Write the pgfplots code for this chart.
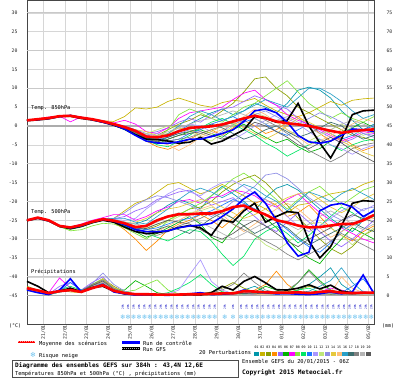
\documentclass[border=0pt]{standalone}
\usepackage{pgfplots}
\usepackage{pgfplotstable}
\pgfplotsset{compat=1.18}
\usepackage{fontspec}
\setmainfont{DejaVu Sans Mono}
\newfontfamily\djs{DejaVu Sans}
\definecolor{c01}{RGB}{0,150,170}
\definecolor{c02}{RGB}{200,180,0}
\definecolor{c03}{RGB}{140,160,0}
\definecolor{c04}{RGB}{255,140,0}
\definecolor{c05}{RGB}{150,100,255}
\definecolor{c06}{RGB}{0,180,0}
\definecolor{c07}{RGB}{255,0,255}
\definecolor{c08}{RGB}{130,230,60}
\definecolor{c09}{RGB}{0,230,100}
\definecolor{c10}{RGB}{30,120,255}
\definecolor{c11}{RGB}{170,150,255}
\definecolor{c12}{RGB}{190,230,120}
\definecolor{c13}{RGB}{140,140,230}
\definecolor{c14}{RGB}{230,200,60}
\definecolor{c15}{RGB}{255,190,120}
\definecolor{c16}{RGB}{40,160,200}
\definecolor{c17}{RGB}{60,110,110}
\definecolor{c18}{RGB}{130,130,130}
\definecolor{c19}{RGB}{180,180,180}
\definecolor{c20}{RGB}{90,90,90}
\definecolor{snowc}{RGB}{110,195,240}

% T850 (degC), 12-hourly from 20/01 06Z
\pgfplotstableread{
name 0 12 24 36 48 60 72 84 96 108 120 132 144 156 168 180 192 204 216 228 240 252 264 276 288 300 312 324 336 348 360 372 384
p01 1.4 1.7 2.2 2.5 2.9 2.3 1.6 1.0 0.6 -0.8 -2.0 -3.5 -4.2 -3.0 -1.5 0.5 2.0 3.5 4.5 3.0 4.0 6.0 5.0 3.5 6.0 9.5 10.3 9.5 7.4 4.0 1.5 -1.0 0.5
p02 1.6 1.9 2.0 2.8 2.6 2.1 1.9 1.4 1.2 2.5 4.8 4.5 5.0 6.5 7.4 6.5 5.5 5.0 6.2 6.8 6.5 7.3 5.5 4.0 3.0 2.5 3.5 5.0 6.5 5.5 6.8 7.2 7.4
p03 1.5 1.6 2.1 2.4 2.8 2.4 1.7 1.1 0.3 -0.5 -2.0 -3.0 -2.5 -1.0 0.5 1.5 3.0 2.0 4.0 6.0 9.0 12.5 13.0 10.0 8.0 5.0 3.5 2.0 0.5 -1.0 -2.5 -3.0 -4.0
p04 1.5 1.9 2.3 2.7 2.5 2.0 1.8 1.3 0.4 -0.6 -2.2 -4.0 -5.5 -6.2 -5.0 -3.5 -2.0 -1.0 -2.5 -0.5 1.5 0.0 -2.0 -1.0 1.0 2.5 0.5 -2.0 -4.0 -3.0 -5.0 -6.5 -5.5
p05 1.4 1.8 2.0 2.6 2.8 2.3 1.9 1.2 0.7 0.0 -1.0 -2.0 -1.5 -0.5 1.0 2.0 1.0 3.0 4.5 5.0 6.5 8.0 7.0 5.5 4.5 2.0 0.0 -1.5 -3.0 -4.5 -3.5 -2.0 -2.5
p06 1.6 1.8 2.1 2.5 2.7 2.1 1.7 1.0 0.2 -1.0 -2.5 -4.0 -4.8 -3.5 -2.5 -1.5 -1.0 -2.0 -3.0 -1.0 0.5 -1.5 -3.0 -4.5 -3.5 -5.5 -7.0 -6.0 -4.0 -2.0 -0.5 1.0 -0.5
p07 1.5 1.9 2.4 2.6 1.1 2.4 1.9 1.4 0.8 1.5 0.5 -1.5 -2.0 -0.5 2.0 3.5 4.0 4.5 5.0 7.0 8.7 9.5 7.0 5.5 3.0 1.5 0.5 -1.0 -2.5 -4.0 -3.0 -1.5 -2.0
p08 1.5 1.7 2.0 2.7 2.8 2.2 1.8 1.1 0.4 -0.4 -1.5 -3.0 -3.5 -1.0 3.0 4.5 3.5 2.0 1.0 3.0 5.0 6.0 8.0 10.0 12.0 9.0 6.0 4.0 2.0 3.5 2.0 1.0 2.5
p09 1.6 1.8 2.2 2.6 2.6 2.2 1.8 1.2 0.5 -0.3 -1.8 -3.5 -5.0 -5.5 -4.0 -2.5 -0.5 1.0 2.0 0.5 -1.0 -2.5 -4.5 -6.0 -8.0 -6.5 -5.0 -3.5 -5.0 -6.5 -5.0 -4.0 -3.5
p10 1.5 1.8 2.1 2.7 2.7 2.3 1.8 1.2 0.6 -0.2 -1.0 -2.5 -3.0 -4.0 -3.5 -2.0 -1.0 0.5 1.5 2.5 1.0 2.0 0.5 -1.5 -2.5 -1.0 0.5 -0.5 -2.0 -3.5 -2.5 -1.0 0.0
p11 1.4 1.8 2.1 2.5 2.8 2.2 1.7 1.3 0.5 -0.5 -1.6 -2.5 -2.0 -2.5 -1.0 0.5 0.0 -1.5 -2.5 -3.5 -2.0 0.0 1.5 3.0 2.0 0.5 -1.5 -3.5 -5.0 -6.0 -7.5 -6.0 -5.0
p12 1.5 1.8 2.0 2.6 2.7 2.1 1.8 1.2 0.5 -0.5 -1.5 -2.0 -1.0 0.0 -0.5 -1.5 -3.0 -4.0 -2.0 0.0 2.0 3.5 2.5 1.0 -1.0 -2.5 -4.0 -2.5 -1.0 0.5 -1.0 -2.5 -1.5
p13 1.5 1.9 2.1 2.6 2.7 2.2 1.8 1.2 0.4 -0.4 -1.2 -2.5 -3.5 -3.0 -2.0 -1.0 -2.0 -3.0 -1.5 0.5 1.5 3.0 4.0 2.5 1.0 0.5 2.0 3.5 2.5 1.0 -0.5 -2.0 -3.0
p14 1.6 1.7 2.0 2.6 2.8 2.3 1.8 1.3 0.6 -0.4 -1.0 -1.5 -2.5 -2.0 -0.5 -1.0 -2.5 -1.5 0.0 1.0 -0.5 -2.0 -3.5 -2.0 0.0 2.0 1.0 -0.5 -2.0 -4.0 -5.5 -7.0 -8.0
p15 1.5 1.8 2.2 2.6 2.6 2.1 1.8 1.2 0.5 -0.2 -1.4 -2.8 -4.0 -5.0 -6.5 -5.0 -3.0 -2.0 -1.0 0.5 2.5 4.5 3.0 1.0 -1.0 -3.0 -5.0 -4.0 -2.5 -1.0 0.5 2.0 1.0
p16 1.5 1.7 2.1 2.5 2.7 2.2 1.8 1.2 0.5 -0.6 -1.8 -3.2 -3.5 -2.0 0.0 2.5 4.0 3.0 1.5 2.5 4.0 5.5 7.0 6.0 5.0 7.5 10.0 10.0 8.5 6.5 4.0 2.0 3.0
p17 1.5 1.8 2.0 2.7 2.8 2.2 1.8 1.2 0.5 -0.3 -1.5 -3.0 -3.8 -3.0 -2.0 -1.5 -0.5 0.5 -0.5 -2.0 -3.5 -2.5 -1.0 0.0 -1.5 -3.0 -2.0 -0.5 1.0 0.0 -2.0 -3.5 -2.5
p18 1.4 1.8 2.1 2.6 2.7 2.2 1.8 1.2 0.5 -0.4 -1.8 -3.5 -4.5 -4.0 -3.5 -3.0 -2.0 -1.0 0.0 1.0 2.0 3.0 1.5 0.0 -2.0 -4.0 -6.5 -8.0 -9.5 -8.0 -6.0 -5.0 -4.5
p19 1.5 1.8 2.1 2.6 2.7 2.2 1.8 1.3 0.6 -0.3 -1.2 -2.2 -2.5 -1.5 -0.5 0.5 1.5 2.0 3.0 4.0 3.0 2.0 0.5 1.5 2.5 1.0 -0.5 -2.0 -1.0 0.5 1.5 0.5 -0.5
p20 1.5 1.8 2.1 2.6 2.7 2.2 1.8 1.2 0.5 -0.5 -1.7 -3.3 -4.2 -3.5 -2.5 -2.0 -1.5 -2.5 -3.5 -2.5 -1.0 1.0 0.0 -1.5 -3.0 -5.0 -6.0 -4.5 -3.0 -4.5 -6.5 -8.0 -9.5
mean 1.5 1.8 2.1 2.6 2.7 2.2 1.8 1.2 0.5 -0.3 -1.3 -2.8 -3.0 -2.5 -1.4 -0.5 -0.3 -0.1 0.4 1.2 2.0 2.7 2.1 1.2 0.7 0.4 0.0 -0.6 -1.3 -1.8 -1.4 -1.1 -0.9
ctl 1.5 1.7 2.0 2.5 2.8 2.2 1.7 1.0 0.3 -0.8 -2.5 -4.0 -4.5 -4.6 -4.2 -3.5 -3.5 -2.8 -2.0 -1.0 1.2 4.0 4.5 3.5 1.0 -2.5 -4.2 -4.6 -4.0 -2.5 -0.8 -1.0 -1.5
gfs 1.4 1.6 1.9 2.5 2.6 2.0 1.6 1.0 0.2 -0.8 -2.3 -3.5 -3.6 -4.0 -4.6 -4.3 -3.0 -4.8 -4.0 -2.5 -1.0 2.5 2.0 1.0 1.5 6.0 0.0 -4.5 -8.5 -3.5 3.0 4.0 4.2
}\rawA
\pgfplotstabletranspose[colnames from=name]\tA\rawA

% T500 (degC)
\pgfplotstableread{
name 0 12 24 36 48 60 72 84 96 108 120 132 144 156 168 180 192 204 216 228 240 252 264 276 288 300 312 324 336 348 360 372 384
p01 -25.0 -24.4 -25.1 -26.4 -26.8 -26.2 -25.3 -24.5 -24.8 -25.5 -26.0 -25.0 -23.0 -21.0 -19.5 -20.5 -22.0 -18.5 -16.0 -18.0 -20.0 -22.5 -19.0 -16.5 -15.5 -17.0 -19.5 -22.0 -24.5 -26.5 -28.0 -25.0 -23.5
p02 -25.1 -24.2 -24.9 -26.6 -27.0 -26.4 -25.5 -24.8 -24.5 -22.5 -20.5 -19.5 -17.5 -15.5 -15.0 -16.5 -18.0 -17.0 -15.5 -17.0 -18.5 -20.5 -22.0 -24.0 -23.0 -21.0 -20.5 -19.0 -18.0 -17.5 -17.0 -15.5 -14.5
p03 -24.9 -24.3 -25.0 -26.5 -26.9 -26.4 -25.4 -24.7 -25.0 -26.0 -27.0 -27.5 -26.5 -25.0 -23.5 -22.0 -21.5 -20.0 -17.5 -15.5 -14.0 -13.0 -15.0 -18.0 -21.0 -24.5 -27.0 -30.0 -32.5 -34.0 -32.0 -29.0 -27.5
p04 -25.0 -24.4 -25.2 -26.7 -27.0 -26.2 -25.2 -24.6 -25.5 -27.5 -30.0 -33.0 -30.5 -27.5 -26.0 -25.0 -23.5 -25.0 -27.0 -24.5 -22.0 -20.5 -19.5 -21.0 -24.0 -23.0 -21.0 -24.0 -27.0 -29.0 -30.5 -28.0 -26.5
p05 -25.0 -24.2 -25.0 -26.4 -26.8 -26.3 -25.4 -24.7 -24.6 -24.0 -22.5 -21.5 -19.5 -18.5 -17.5 -17.0 -19.0 -21.0 -20.0 -19.0 -21.5 -24.0 -26.5 -28.0 -25.5 -23.0 -25.5 -28.0 -30.5 -32.0 -30.0 -27.5 -25.0
p06 -25.1 -24.4 -25.1 -26.8 -27.4 -26.8 -25.8 -25.0 -25.3 -26.5 -28.0 -29.5 -28.5 -27.0 -25.5 -24.0 -26.0 -29.5 -31.0 -27.5 -24.0 -22.0 -24.5 -27.0 -30.0 -33.0 -35.0 -36.5 -33.0 -30.0 -27.0 -28.5 -30.0
p07 -25.0 -24.3 -25.0 -26.4 -26.8 -26.0 -25.0 -24.3 -23.5 -23.5 -25.0 -24.0 -22.5 -21.5 -20.0 -19.5 -20.5 -19.0 -18.5 -17.0 -17.5 -18.5 -20.5 -21.5 -19.5 -18.0 -20.5 -23.0 -25.0 -27.0 -28.5 -30.0 -31.0
p08 -25.0 -24.4 -25.0 -26.6 -27.8 -27.5 -26.5 -25.8 -26.0 -27.0 -28.5 -30.0 -28.0 -25.0 -23.5 -22.0 -20.5 -18.5 -16.5 -14.0 -12.5 -14.5 -17.0 -19.5 -22.0 -19.5 -17.5 -16.0 -18.5 -21.0 -19.0 -17.0 -16.0
p09 -25.1 -24.3 -25.1 -26.6 -27.0 -26.5 -25.5 -24.9 -25.5 -26.5 -27.5 -28.5 -29.5 -30.5 -29.0 -27.5 -28.0 -30.5 -34.0 -37.0 -34.5 -30.0 -28.0 -26.5 -28.5 -31.0 -29.0 -26.5 -24.0 -21.5 -23.0 -25.0 -24.0
p10 -25.0 -24.3 -25.0 -26.5 -26.9 -26.3 -25.4 -24.8 -25.3 -26.0 -27.0 -27.5 -27.0 -26.0 -25.0 -24.5 -23.5 -22.5 -21.0 -19.5 -20.5 -22.0 -23.5 -25.0 -27.5 -30.0 -32.0 -33.5 -31.0 -28.0 -26.0 -24.5 -22.0
p11 -24.9 -24.3 -25.0 -26.4 -26.8 -26.3 -25.3 -24.6 -24.8 -25.0 -24.5 -22.0 -20.0 -18.0 -16.5 -17.5 -18.5 -16.5 -15.0 -14.5 -16.0 -18.0 -19.5 -21.5 -24.0 -26.5 -28.0 -26.5 -24.5 -22.5 -21.0 -22.5 -21.0
p12 -25.0 -24.4 -25.1 -26.5 -27.0 -26.4 -25.5 -24.7 -25.0 -25.8 -26.5 -27.0 -26.0 -25.5 -24.0 -23.0 -22.5 -21.5 -22.5 -24.5 -26.5 -29.0 -31.5 -33.0 -31.0 -28.5 -26.0 -25.5 -27.0 -29.0 -31.5 -29.0 -27.0
p13 -25.0 -24.3 -25.0 -26.5 -26.9 -26.3 -25.4 -24.7 -24.5 -23.0 -21.0 -19.5 -18.5 -19.0 -20.0 -21.0 -22.5 -24.0 -22.5 -20.0 -18.0 -16.0 -13.0 -12.5 -14.0 -16.5 -19.0 -21.0 -23.5 -25.0 -24.0 -22.0 -21.5
p14 -25.0 -24.3 -25.1 -26.6 -27.0 -26.3 -25.4 -24.8 -25.2 -25.5 -25.5 -24.5 -23.0 -22.0 -21.5 -20.5 -19.5 -20.0 -21.5 -23.0 -24.5 -23.5 -22.0 -20.5 -19.0 -18.0 -17.5 -19.5 -21.5 -23.0 -21.5 -19.5 -18.0
p15 -25.0 -24.4 -25.0 -26.4 -26.9 -26.4 -25.5 -24.8 -25.2 -26.0 -27.5 -28.5 -28.0 -26.5 -25.0 -23.5 -22.0 -21.0 -23.5 -26.0 -28.0 -26.0 -24.0 -22.0 -20.5 -22.0 -24.5 -27.0 -29.5 -28.0 -26.5 -25.0 -24.5
p16 -25.0 -24.3 -25.0 -26.5 -26.9 -26.3 -25.4 -24.7 -24.5 -24.5 -25.5 -26.0 -24.0 -22.0 -19.5 -17.5 -16.5 -17.5 -19.0 -17.5 -15.5 -16.5 -18.5 -20.0 -22.5 -20.0 -17.5 -18.5 -20.0 -18.0 -16.5 -18.0 -19.5
p17 -25.0 -24.3 -25.1 -26.5 -26.9 -26.3 -25.4 -24.7 -25.2 -26.2 -27.2 -28.0 -27.5 -26.5 -27.5 -28.5 -26.5 -24.5 -23.0 -24.5 -26.5 -28.5 -27.0 -25.5 -27.0 -29.5 -31.5 -30.0 -28.5 -27.0 -25.5 -27.0 -28.0
p18 -25.0 -24.2 -25.0 -26.5 -26.9 -26.3 -25.4 -24.7 -25.1 -26.2 -27.5 -28.8 -29.0 -28.0 -26.5 -25.5 -24.5 -23.0 -24.5 -26.0 -27.5 -29.0 -30.5 -32.0 -34.0 -35.5 -34.0 -32.5 -30.5 -28.5 -30.0 -31.5 -33.0
p19 -25.0 -24.3 -25.0 -26.5 -26.9 -26.3 -25.4 -24.7 -25.0 -25.5 -26.0 -26.5 -25.5 -24.0 -23.0 -24.0 -25.5 -27.0 -28.5 -30.0 -28.5 -27.0 -25.5 -24.5 -26.0 -27.5 -26.0 -24.0 -22.5 -24.0 -26.0 -27.5 -26.0
p20 -25.0 -24.3 -25.0 -26.5 -26.9 -26.3 -25.4 -24.7 -25.1 -26.0 -27.0 -27.2 -26.0 -25.0 -25.5 -26.0 -27.5 -29.0 -30.0 -28.5 -26.5 -25.0 -26.5 -28.5 -30.5 -32.0 -30.0 -28.5 -27.0 -25.0 -23.5 -24.5 -25.5
mean -25.0 -24.3 -25.0 -26.5 -26.9 -26.3 -25.4 -24.7 -25.1 -25.8 -26.8 -26.5 -25.0 -24.0 -23.4 -23.4 -23.2 -23.2 -22.6 -21.5 -21.1 -22.4 -23.5 -25.0 -25.6 -26.4 -26.9 -26.8 -26.4 -26.0 -26.0 -25.0 -23.6
ctl -25.0 -24.4 -25.1 -26.5 -27.0 -26.5 -25.5 -24.8 -25.2 -26.2 -27.5 -28.0 -28.0 -27.8 -27.0 -26.5 -26.3 -25.8 -24.0 -22.0 -19.3 -17.5 -20.5 -25.0 -31.0 -34.5 -33.5 -22.5 -21.0 -20.5 -21.5 -24.0 -22.5
gfs -25.1 -24.5 -25.2 -26.6 -27.2 -26.6 -25.6 -25.0 -25.5 -26.8 -28.0 -28.5 -28.3 -27.8 -26.9 -26.4 -27.0 -29.0 -25.0 -25.5 -22.5 -20.5 -25.5 -24.0 -22.7 -23.0 -30.5 -35.0 -32.0 -26.5 -20.5 -19.8 -20.0
}\rawB
\pgfplotstabletranspose[colnames from=name]\tB\rawB

% Precipitation (mm, right axis)
\pgfplotstableread{
name 0 12 24 36 48 60 72 84 96 108 120 132 144 156 168 180 192 204 216 228 240 252 264 276 288 300 312 324 336 348 360 372 384
p01 1.8 1.0 0.3 1.0 1.5 1.2 2.5 3.5 1.5 0.5 0.2 0.3 0.2 0.1 0.2 0.4 0.8 0.5 0.3 0.6 1.5 2.5 1.0 0.5 0.8 1.5 3.0 5.0 7.4 3.0 1.0 0.5 0.8
p02 2.2 1.2 0.4 1.5 1.0 0.8 3.0 4.0 2.0 0.8 0.3 0.2 0.1 0.2 0.3 0.5 0.3 0.2 0.5 1.0 0.8 0.5 0.3 0.6 1.2 0.8 0.5 0.3 0.6 1.0 0.5 0.3 0.4
p03 2.5 1.5 0.5 1.0 2.0 1.5 2.8 4.5 2.5 1.0 0.5 0.3 0.2 0.2 0.3 0.2 0.5 1.0 2.0 3.5 2.0 1.0 0.6 0.4 0.8 1.5 2.5 1.8 0.6 0.4 0.3 0.5 0.6
p04 1.8 1.3 0.6 1.2 1.3 1.0 2.2 3.0 1.2 0.6 0.2 0.3 0.2 0.1 0.1 0.2 0.3 0.2 0.4 0.3 0.8 1.5 3.0 6.5 3.0 1.0 0.5 0.8 1.5 0.8 0.4 0.2 0.3
p05 2.0 1.4 0.4 2.5 3.5 1.5 3.5 5.0 2.0 0.8 0.3 0.2 0.1 0.1 0.2 0.3 0.2 0.3 0.5 0.4 0.3 0.5 0.8 0.5 0.3 0.6 1.0 0.6 0.3 0.5 0.8 1.2 0.6
p06 1.6 1.0 0.3 1.0 1.5 1.0 2.0 2.5 1.5 1.5 4.0 2.5 0.8 0.3 0.2 0.3 0.2 0.5 1.0 0.8 0.5 1.0 2.5 1.5 0.8 3.5 6.9 4.0 1.5 0.8 0.5 0.3 0.5
p07 2.0 1.5 0.8 4.7 2.0 1.0 2.5 3.5 1.3 0.5 0.2 0.2 0.1 0.1 0.2 0.2 0.3 0.2 0.3 0.5 0.8 1.2 0.8 0.5 0.3 0.4 0.6 1.0 2.0 1.5 0.8 0.5 0.3
p08 1.5 1.0 0.2 1.0 1.8 1.2 3.0 4.5 2.0 1.0 1.5 3.0 4.2 1.5 0.5 0.3 0.2 0.2 0.3 0.5 0.4 0.3 0.5 0.8 0.6 0.4 0.3 0.5 0.8 0.5 0.3 0.4 0.5
p09 1.8 1.2 0.4 1.5 2.5 1.5 2.5 3.0 1.5 0.7 0.3 0.2 0.3 0.8 2.0 3.5 5.6 3.0 1.0 0.5 0.3 0.4 0.6 0.5 0.8 1.5 2.0 1.0 0.5 0.3 0.4 0.3 0.3
p10 1.6 1.1 0.3 1.2 3.5 1.5 2.5 3.2 1.2 0.5 0.2 0.2 0.1 0.2 0.2 0.3 0.2 0.3 0.4 0.6 0.8 0.6 0.4 0.3 0.5 0.4 0.3 0.4 0.6 0.8 2.5 4.5 1.0
p11 1.7 1.0 0.3 1.0 1.5 1.0 2.5 3.8 1.5 0.5 0.3 0.2 0.2 0.5 1.5 5.6 9.5 3.8 1.5 0.6 0.4 0.3 0.5 0.3 0.4 0.5 0.3 0.2 0.4 0.5 0.3 0.4 0.3
p12 1.9 1.3 0.5 1.3 1.6 1.2 2.8 4.0 1.8 0.8 0.3 0.2 0.2 0.1 0.2 0.3 0.4 0.6 0.4 0.3 0.5 0.6 0.8 1.2 0.8 0.5 0.4 0.6 0.5 0.4 0.6 0.5 0.4
p13 2.0 1.2 0.4 1.2 1.8 1.3 3.2 6.0 3.0 1.2 0.5 0.3 0.2 0.2 0.1 0.2 0.3 0.2 0.3 0.5 0.6 0.4 0.3 0.5 0.4 0.3 0.5 0.8 0.6 0.4 0.3 0.5 0.4
p14 1.7 1.1 0.4 1.1 1.4 1.1 2.4 4.5 2.2 0.9 0.3 0.2 0.1 0.1 0.2 0.2 0.3 0.4 0.3 0.4 0.8 0.5 0.4 0.3 0.6 1.0 0.8 0.5 0.3 0.5 0.4 0.3 0.5
p15 1.8 1.2 0.5 1.3 1.5 1.2 2.6 3.6 1.6 0.7 0.3 0.2 0.2 0.2 0.2 0.3 0.2 0.2 0.3 0.3 0.5 0.4 0.3 0.8 1.5 1.0 0.6 0.4 0.8 5.0 2.0 0.8 0.6
p16 1.6 1.0 0.3 1.0 1.3 1.0 2.2 3.0 1.3 0.6 0.3 0.2 0.1 0.1 0.2 0.2 0.3 0.3 0.4 0.5 0.6 0.8 0.6 0.4 0.5 0.8 1.2 2.5 4.0 7.4 3.5 1.0 0.5
p17 2.0 1.4 0.6 1.4 1.7 1.3 2.7 3.4 1.4 0.8 0.3 0.2 0.2 0.1 0.2 0.3 0.3 0.2 0.3 0.4 0.6 0.5 0.7 1.0 0.6 0.4 0.3 0.5 0.4 0.3 0.4 0.6 0.5
p18 2.2 1.4 0.5 1.5 1.8 1.3 3.0 4.2 2.0 0.9 0.4 0.2 0.2 0.2 0.2 0.3 0.5 0.8 1.5 3.0 6.0 3.5 1.5 0.8 1.5 3.5 6.5 3.5 1.2 0.8 0.5 0.4 0.5
p19 1.7 1.1 0.4 1.2 1.5 1.1 2.5 3.5 1.6 0.7 0.3 0.2 0.1 0.1 0.2 0.2 0.3 0.2 0.4 0.3 0.5 0.6 0.4 0.3 0.4 0.5 0.6 0.4 0.5 0.3 0.4 0.3 0.4
p20 1.9 1.3 0.5 1.3 1.7 1.2 2.7 3.9 1.7 0.8 0.3 0.2 0.2 0.1 0.2 0.3 0.2 0.3 0.4 0.5 0.6 0.5 0.8 1.0 0.7 0.5 0.8 1.2 0.8 0.5 0.4 0.6 0.7
mean 2.0 1.4 0.7 1.2 1.5 1.0 2.0 2.8 1.3 0.7 0.4 0.4 0.3 0.3 0.3 0.4 0.4 0.5 0.6 0.6 1.2 1.1 0.9 0.8 0.8 0.9 0.7 1.0 1.2 0.8 0.7 0.8 0.8
ctl 1.5 0.8 0.3 1.5 4.5 1.0 2.0 3.0 1.0 0.5 0.2 0.3 0.2 0.1 0.3 0.5 0.8 0.3 0.4 0.6 1.5 1.0 0.8 0.5 0.6 0.4 0.3 0.5 1.0 0.5 1.0 5.5 0.5
gfs 3.8 2.5 0.8 1.2 2.0 1.0 2.2 2.5 1.2 0.5 0.3 0.3 0.2 0.2 0.2 0.3 0.2 0.8 2.5 1.5 3.8 5.1 3.4 1.6 1.5 2.0 2.9 1.8 2.8 1.2 0.8 0.7 0.7
}\rawC
\pgfplotstabletranspose[colnames from=name]\tC\rawC

% snow risk markers (hour, flake row, text row)
\pgfplotstableread{
h fl tx
106 -50.7 -48.0
112 -50.7 -48.0
118 -50.7 -48.0
124 -50.7 -48.0
130 -50.7 -48.0
136 -50.7 -48.0
142 -50.7 -48.0
148 -50.7 -48.0
154 -50.7 -48.0
160 -50.7 -48.0
166 -50.7 -48.0
172 -50.7 -48.0
178 -50.7 -48.0
184 -50.7 -48.0
190 -50.7 -48.0
196 -50.7 -48.0
202 -50.7 -48.0
208 -50.7 -48.0
219 -50.7 -48.0
228 -50.7 -48.0
237 -50.7 -48.0
243 -50.7 -48.0
249 -50.7 -48.0
255 -50.7 -48.0
261 -50.7 -48.0
267 -50.7 -48.0
273 -50.7 -48.0
279 -50.7 -48.0
285 -50.7 -48.0
291 -50.7 -48.0
297 -50.7 -48.0
303 -50.7 -48.0
309 -50.7 -48.0
315 -50.7 -48.0
321 -50.7 -48.0
327 -50.7 -48.0
333 -50.7 -48.0
339 -50.7 -48.0
345 -50.7 -48.0
351 -50.7 -48.0
357 -50.7 -48.0
363 -50.7 -48.0
369 -50.7 -48.0
375 -50.7 -48.0
381 -50.7 -48.0
}\snow

\begin{document}
\begin{tikzpicture}[x=1bp,y=1bp]
\useasboundingbox (0,0) rectangle (400,378);
\fill[white] (0,0) rectangle (400,378);
\begin{axis}[
  at={(27bp,54bp)}, anchor=south west, scale only axis,
  width=347bp, height=324bp,
  xmin=0, xmax=384, ymin=-52.5, ymax=33.4,
  xtick={18,42,...,378},
  xticklabels={21/01,22/01,23/01,24/01,25/01,26/01,27/01,28/01,29/01,30/01,31/01,01/02,02/02,03/02,04/02,05/02},
  ytick={-45,-40,...,30},
  tick style={draw=none},
  xmajorgrids, ymajorgrids,
  grid style={gray!32, line width=0.5bp},
  axis line style={gray!55!black, line width=0.8bp},
  ticklabel style={font=\fontsize{4.8}{5}\selectfont, text=black!85},
  xticklabel style={rotate=90, anchor=east, inner sep=1bp},
  yticklabel style={anchor=east, xshift=-6bp},
  /pgf/number format/assume math mode=true,
  clip=false,
]
\pgfplotsinvokeforeach{-40,-30,-20,-10,10,20,30}{\draw[gray!42, line width=1.1bp] (axis cs:0,#1) -- (axis cs:384,#1);}
\draw[gray!65, line width=1.5bp] (axis cs:0,0) -- (axis cs:384,0);
\draw[gray!65, line width=1.3bp] (axis cs:0,-45) -- (axis cs:384,-45);

\pgfplotsinvokeforeach{01,02,03,04,05,06,07,08,09,10,11,12,13,14,15,16,17,18,19,20}{
  \addplot[c#1, line width=0.65bp, no markers] table[x=colnames, y expr=\thisrow{p#1}-45] {\tC};
  \addplot[c#1, line width=0.65bp, no markers] table[x=colnames, y=p#1] {\tB};
  \addplot[c#1, line width=0.65bp, no markers] table[x=colnames, y=p#1] {\tA};
}
\addplot[black, line width=1.6bp, no markers] table[x=colnames, y expr=\thisrow{gfs}-45] {\tC};
\addplot[blue, line width=1.6bp, no markers] table[x=colnames, y expr=\thisrow{ctl}-45] {\tC};
\addplot[red, line width=2.6bp, no markers] table[x=colnames, y expr=\thisrow{mean}-45] {\tC};
\addplot[black, line width=1.6bp, no markers] table[x=colnames, y=gfs] {\tB};
\addplot[blue, line width=1.6bp, no markers] table[x=colnames, y=ctl] {\tB};
\addplot[red, line width=2.6bp, no markers] table[x=colnames, y=mean] {\tB};
\addplot[black, line width=1.6bp, no markers] table[x=colnames, y=gfs] {\tA};
\addplot[blue, line width=1.6bp, no markers] table[x=colnames, y=ctl] {\tA};
\addplot[red, line width=2.6bp, no markers] table[x=colnames, y=mean] {\tA};

\addplot[only marks, mark=text,
  text mark={\textcolor{snowc}{\djs\fontsize{6.5}{6.5}\selectfont ❄}}]
  table[x=h, y=fl] {\snow};
\addplot[only marks, mark=text,
  text mark={\rotatebox{90}{\textcolor{blue!75!black}{\fontsize{2.8}{3}\selectfont 20\%}}}]
  table[x=h, y=tx] {\snow};
\end{axis}

\begin{axis}[
  at={(27bp,54bp)}, anchor=south west, scale only axis,
  width=347bp, height=324bp,
  xmin=0, xmax=384, ymin=-7.5, ymax=78.4,
  axis y line*=right, axis x line=none,
  ytick={0,5,...,75},
  tick style={draw=none},
  axis line style={gray!55!black, line width=0.8bp},
  ticklabel style={font=\fontsize{4.8}{5}\selectfont, text=black!85},
  yticklabel style={anchor=west, xshift=9bp},
  /pgf/number format/assume math mode=true,
]
\addplot[draw=none] coordinates {(0,0)};
\end{axis}

% labels inside plot
\begin{scope}[every node/.style={inner sep=0pt, anchor=west, font=\fontsize{5.3}{6}\selectfont}]
\node at (31,270) {Temp. 850hPa};
\node at (31,166) {Temp. 500hPa};
\node at (31,106) {Précipitations};
\node[font=\fontsize{5}{6}\selectfont] at (9,52) {(°C)};
\node[font=\fontsize{5}{6}\selectfont] at (382,52) {(mm)};
\end{scope}

% legend
\begin{scope}[every node/.style={inner sep=0pt, anchor=west, font=\fontsize{5.4}{6}\selectfont}]
\draw[red, line width=2.6bp] (18,36) -- (35,36);
\draw[red!40, line width=0.6bp, dash pattern=on 1bp off 1bp] (18,36.6) -- (35,36.6);
\node at (39,34) {Moyenne des scénarios};
\draw[blue, line width=2.6bp] (122,35.5) -- (140,35.5);
\node at (143,34.5) {Run de contrôle};
\draw[black, line width=2.6bp] (122,29.5) -- (140,29.5);
\draw[gray!70, line width=0.7bp, dash pattern=on 1bp off 1bp] (122,29.5) -- (140,29.5);
\node at (143,28.5) {Run GFS};
\node[anchor=center, font=\djs\fontsize{7}{7}\selectfont, text=snowc] at (33,23.5) {❄};
\node at (39,22) {Risque neige};
\node at (199,25.5) {20 Perturbations};
\foreach \n [count=\i] in {01,02,03,04,05,06,07,08,09,10,11,12,13,14,15,16,17,18,19,20}{
  \node[anchor=center, font=\fontsize{3.3}{4}\selectfont] at ({256.5+5.9*(\i-1)},30.5) {\n};
  \fill[c\n] ({256.5+5.9*(\i-1)-2.6},21.5) rectangle ({256.5+5.9*(\i-1)+2.6},26);
}
\draw[gray!60!black, line width=0.8bp] (12,0.4) rectangle (238,18);
\node[font=\bfseries\fontsize{6.1}{7}\selectfont] at (15,12) {Diagramme des ensembles GEFS sur 384h : 43,4N 12,6E};
\node at (15,4.5) {Températures 850hPa et 500hPa (°C) , précipitations (mm)};
\node at (242,16) {Ensemble GEFS du 20/01/2015 - 06Z};
\node[font=\bfseries\fontsize{6.2}{7}\selectfont] at (242,5) {Copyright 2015 Meteociel.fr};
\end{scope}
\end{tikzpicture}
\end{document}
